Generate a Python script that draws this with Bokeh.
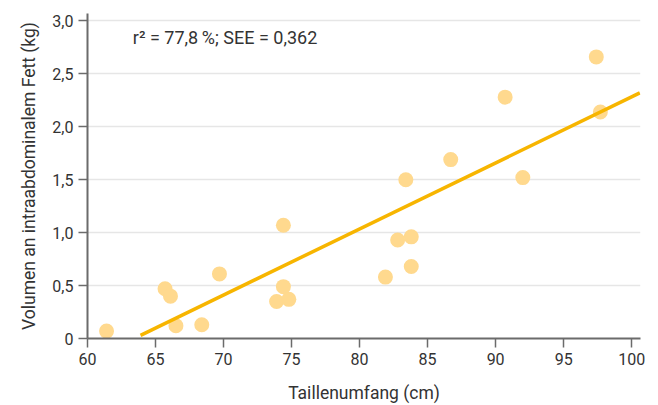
from bokeh.plotting import figure
from bokeh.models import FixedTicker, Range1d, Label, Title
from bokeh.embed import file_html
from bokeh.resources import INLINE

# Data
waist_cm = [61.4, 65.7, 66.1, 66.5, 68.4, 69.7, 74.4, 74.4, 73.9, 74.8,
            81.9, 82.8, 83.8, 83.8, 83.4, 86.7, 90.7, 92.0, 97.4, 97.7]
fat_kg = [0.07, 0.47, 0.40, 0.12, 0.13, 0.61, 1.07, 0.49, 0.35, 0.37,
          0.58, 0.93, 0.96, 0.68, 1.50, 1.69, 2.28, 1.52, 2.66, 2.14]

fit_x = [63.9, 100.6]
fit_y = [0.03, 2.32]

x_ticks = [60, 65, 70, 75, 80, 85, 90, 95, 100]
y_ticks = [0, 0.5, 1.0, 1.5, 2.0, 2.5, 3.0]
y_tick_labels = ["0", "0,5", "1,0", "1,5", "2,0", "2,5", "3,0"]
annotation = "r\u00b2 = 77,8\u2009%; SEE = 0,362"
x_title = "Taillenumfang (cm)"
y_title = "Volumen an intraabdominalem Fett (kg)"

FONT = "Roboto"
TXT = "#333333"

p = figure(width=658, height=405, output_backend="svg", toolbar_location=None,
           x_range=Range1d(60, 100.65), y_range=Range1d(0, 3.07),
           min_border_left=87, min_border_right=18, min_border_top=13, min_border_bottom=66)
p.outline_line_color = None
p.background_fill_color = "white"
p.border_fill_color = "white"

p.xgrid.grid_line_color = None
p.ygrid.grid_line_color = "#e6e6e6"
p.ygrid.grid_line_width = 1.5

for ax in (p.xaxis[0], p.yaxis[0]):
    ax.axis_line_color = "#6b6b6b"
    ax.axis_line_width = 2
    ax.major_tick_line_color = "#6b6b6b"
    ax.major_tick_line_width = 1.5
    ax.major_tick_out = 9
    ax.major_tick_in = 0
    ax.minor_tick_line_color = None
    ax.major_label_text_font = FONT
    ax.major_label_text_font_size = "16px"
    ax.major_label_text_color = TXT
    ax.axis_label_text_font = FONT
    ax.axis_label_text_font_size = "17.5px"
    ax.axis_label_text_font_style = "normal"
    ax.axis_label_text_color = TXT

p.xaxis.ticker = FixedTicker(ticks=x_ticks)
p.yaxis.ticker = FixedTicker(ticks=y_ticks)
p.yaxis.major_label_overrides = {t: l for t, l in zip(y_ticks, y_tick_labels)}
p.xaxis.major_label_standoff = 5
p.yaxis.major_label_standoff = 5
p.xaxis.axis_label = x_title
p.xaxis.axis_label_standoff = 15

p.add_layout(Title(text=y_title, align="center", offset=15, standoff=21,
                   text_font=FONT, text_font_size="17.5px", text_font_style="normal",
                   text_color=TXT), "left")

p.scatter(waist_cm, fat_kg, size=15, fill_color="#ffd98e", line_color=None)
p.line(fit_x, fit_y, line_color="#f7b500", line_width=3.5)

p.add_layout(Label(x=63.33, y=2.84, text=annotation, text_font=FONT,
                   text_font_size="18px", text_color=TXT,
                   text_baseline="middle", text_align="left"))

open("out.html", "w").write(file_html(p, INLINE))
